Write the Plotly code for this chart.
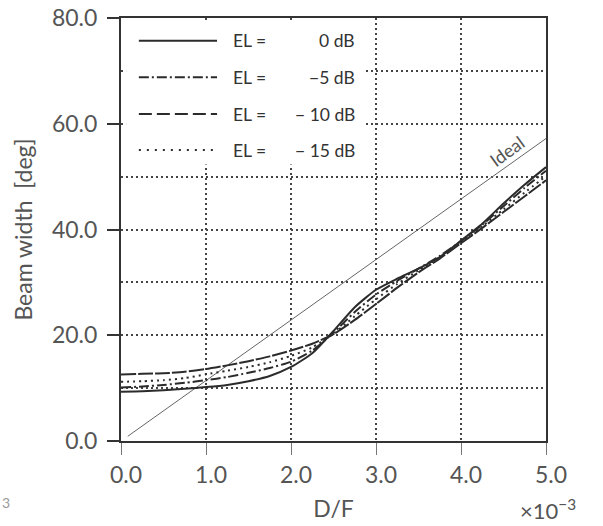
import plotly.graph_objects as go

# ---- data ----
df_x = [0.0, 0.25, 0.5, 0.75, 1.0, 1.25, 1.5, 1.75, 2.0, 2.25, 2.5,
        2.75, 3.0, 3.25, 3.5, 3.75, 4.0, 4.25, 4.5, 4.75, 5.0]
bw_0db = [9.3, 9.4, 9.6, 9.9, 10.2, 10.6, 11.3, 12.3, 14.0, 16.6, 20.8,
          25.3, 28.6, 30.7, 32.6, 34.8, 37.9, 41.1, 44.9, 48.5, 51.8]
bw_m5db = [10.1, 10.3, 10.6, 11.0, 11.5, 12.1, 12.9, 13.8, 15.0, 17.1, 20.5,
           24.4, 27.7, 30.3, 32.6, 35.0, 37.8, 40.9, 44.4, 47.9, 51.1]
bw_m10db = [12.6, 12.7, 12.8, 13.1, 13.6, 14.3, 15.1, 16.0, 17.1, 18.4, 20.2,
            22.9, 25.9, 29.0, 31.9, 34.5, 37.4, 40.3, 43.3, 46.3, 49.3]
bw_m15db = [11.2, 11.3, 11.5, 11.9, 12.6, 13.3, 14.0, 14.9, 16.1, 17.7, 20.3,
            23.6, 26.8, 29.7, 32.3, 34.7, 37.6, 40.6, 43.8, 47.0, 50.1]
ideal_x = [0.08, 5.0]
ideal_y = [0.9, 57.2]

legend_labels = ["0 dB", "\u22125 dB", "\u2212 10 dB", "\u2212 15 dB"]
y_ticks = [0, 20, 40, 60, 80]
x_ticks = [0, 1, 2, 3, 4, 5]

FONT = "Lato"
TXT = "#555555"
INK = "#2b2b2b"

series = [
    (bw_0db, "solid"),
    (bw_m5db, "10px,3px,2px,3px"),
    (bw_m10db, "15px,2px"),
    (bw_m15db, "2px,4px"),
]
legend_dash = ["solid", "10px,3px,2px,3px", "13px,5px", "2px,6px"]

fig = go.Figure()
fig.add_trace(go.Scatter(x=ideal_x, y=ideal_y, mode="lines",
                         line=dict(color="#666666", width=1), showlegend=False))
for (vals, dash), lab in zip(series, legend_labels):
    fig.add_trace(go.Scatter(x=df_x, y=vals, mode="lines", name="EL = " + lab,
                             line=dict(color=INK, width=2, dash=dash, shape="spline", smoothing=0.6),
                             showlegend=False))

# manual legend (white box + key lines + text)
shapes = [dict(type="rect", xref="x", yref="y", x0=0.06, x1=2.87, y0=52.3, y1=79.6,
               fillcolor="white", line=dict(width=0), layer="above")]
annotations = []
row_y = [0.9463, 0.8598, 0.7730, 0.6879]
for ry, dash, lab in zip(row_y, legend_dash, legend_labels):
    shapes.append(dict(type="line", xref="paper", yref="paper", x0=0.042, x1=0.226, y0=ry, y1=ry,
                       line=dict(color=INK, width=2, dash=dash), layer="above"))
    annotations.append(dict(xref="paper", yref="paper", x=0.259, y=ry, text="EL =", showarrow=False,
                            xanchor="left", yanchor="middle", font=dict(family=FONT, size=17.5, color="#333333")))
    annotations.append(dict(xref="paper", yref="paper", x=0.555, y=ry, text=lab, showarrow=False,
                            xanchor="right", yanchor="middle", font=dict(family=FONT, size=17.5, color="#333333")))

annotations.append(dict(xref="x", yref="y", x=4.54, y=54.9, text="Ideal", showarrow=False,
                        textangle=-36, font=dict(family=FONT, size=18, color=TXT)))
annotations.append(dict(xref="paper", yref="paper", x=1.005, y=-0.163, text="\u00d710<sup>\u22123</sup>",
                        showarrow=False, xanchor="center", yanchor="middle",
                        font=dict(family=FONT, size=22, color=TXT)))
annotations.append(dict(xref="paper", yref="paper", x=-0.285, y=-0.145, text="3", showarrow=False,
                        xanchor="left", yanchor="middle", font=dict(family=FONT, size=14, color="#999999")))

grid_common = dict(showgrid=True, gridcolor="#444444", gridwidth=1.5, griddash="2px,3px")

fig.update_layout(
    width=603, height=526,
    margin=dict(l=121, r=57, t=18, b=85),
    paper_bgcolor="white", plot_bgcolor="white",
    font=dict(family=FONT, size=23, color=TXT),
    shapes=shapes, annotations=annotations,
    xaxis=dict(range=[0, 5], tickvals=x_ticks, tickformat=".1f", ticks="outside", ticklen=12,
               tickcolor="#777777", tickwidth=1, showline=True, linecolor="#333333", linewidth=2,
               mirror=True, zeroline=False, ticklabelshift=5, automargin=False,
               ticklabeloverflow="allow",
               title=dict(text="D/F", standoff=14, font=dict(family=FONT, size=23, color=TXT)),
               **grid_common),
    yaxis=dict(range=[0, 80], tickvals=y_ticks, tickformat=".1f", ticks="outside", ticklen=12,
               tickcolor="#333333", tickwidth=1.5, showline=True, linecolor="#333333", linewidth=2,
               mirror=True, zeroline=False, automargin=False, ticklabelstandoff=5,
               ticklabeloverflow="allow",
               minor=dict(dtick=10, tick0=0, showgrid=True, gridcolor="#444444", gridwidth=1.5,
                          griddash="2px,3px", ticks=""),
               title=dict(text="Beam width  [deg]", standoff=13, font=dict(family=FONT, size=23, color=TXT)),
               **grid_common),
)

# remove the page's default body margin so the 603x526 figure fills the window exactly
fig.write_html("out.html", config={"displayModeBar": False},
               post_script="document.body.style.margin='0';")
